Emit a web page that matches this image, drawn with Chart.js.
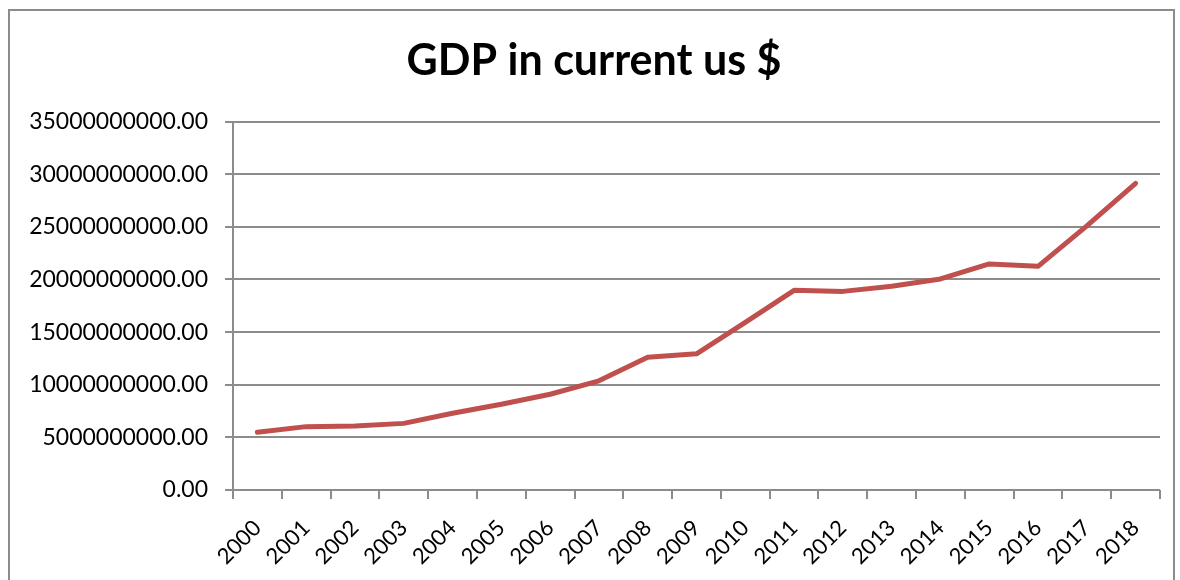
<html>
<head>
    <meta charset="utf-8">
    <title>GDP in current us $</title>
    <script src="https://cdn.jsdelivr.net/npm/chart.js@4.4.0/dist/chart.umd.min.js"></script>
    <style type="text/css">
        body {
            margin: 0;
            background: #ffffff;
            overflow: hidden;
        }
        .frame {
            position: absolute;
            left: 8px;
            top: 9px;
            width: 1163px;
            height: 620px;
            border: 2px solid #8c8c8c;
        }
        .chart {
            position: absolute;
            left: 0;
            top: 0;
            width: 1180px;
            height: 580px;
        }
    </style>
</head>
<body>
<div class="frame"></div>
<div class="chart">
    <canvas id="gdpChart" width="1180" height="580"></canvas>
</div>

<script>
    // chart data
    var years = ['2000', '2001', '2002', '2003', '2004', '2005', '2006', '2007', '2008', '2009',
                 '2010', '2011', '2012', '2013', '2014', '2015', '2016', '2017', '2018'];
    var gdp = [5480000000, 6020000000, 6080000000, 6330000000, 7290000000, 8140000000, 9100000000,
               10370000000, 12620000000, 12940000000, 15920000000, 18970000000, 18870000000,
               19350000000, 20050000000, 21480000000, 21250000000, 25100000000, 29130000000];
    var yMin = 0, yMax = 35000000000, yStep = 5000000000;

    var fontName = "Lato, 'Open Sans', sans-serif";
    var gridColour = '#8c8c8c';

    var ctx = document.getElementById('gdpChart').getContext('2d');
    var gdpChart = new Chart(ctx, {
        type: 'line',
        data: {
            labels: years,
            datasets: [{
                label: 'GDP',
                data: gdp,
                borderColor: '#c0504d',
                backgroundColor: '#c0504d',
                borderWidth: 5,
                pointRadius: 0,
                borderCapStyle: 'round',
                borderJoinStyle: 'round',
                tension: 0
            }]
        },
        options: {
            responsive: false,
            animation: false,
            layout: {
                padding: { left: 28, right: 20, top: 0, bottom: 0 }
            },
            plugins: {
                legend: { display: false },
                tooltip: { enabled: false },
                title: {
                    display: true,
                    text: 'GDP in current us $',
                    color: '#000000',
                    font: { family: fontName, size: 43, weight: 'bold', lineHeight: 1.2 },
                    padding: { top: 35, bottom: 35 }
                }
            },
            scales: {
                x: {
                    offset: true,
                    grid: {
                        offset: true,
                        drawOnChartArea: false,
                        drawTicks: true,
                        tickLength: 9,
                        color: gridColour,
                        lineWidth: 2
                    },
                    border: { display: false },
                    ticks: {
                        color: '#000000',
                        font: { family: fontName, size: 22 },
                        minRotation: 45,
                        maxRotation: 45,
                        padding: 16,
                        autoSkip: false
                    },
                    afterFit: function(scale) {
                        scale.height = 90;
                    }
                },
                y: {
                    min: yMin,
                    max: yMax,
                    grid: {
                        color: gridColour,
                        lineWidth: 2,
                        tickLength: 8
                    },
                    border: { display: true, color: gridColour, width: 2 },
                    ticks: {
                        stepSize: yStep,
                        color: '#000000',
                        font: { family: fontName, size: 23 },
                        padding: 17,
                        callback: function(value) {
                            return Number(value).toFixed(2);
                        }
                    },
                    afterFit: function(scale) {
                        scale.width = 205;
                    }
                }
            }
        }
    });
</script>
</body>
</html>
